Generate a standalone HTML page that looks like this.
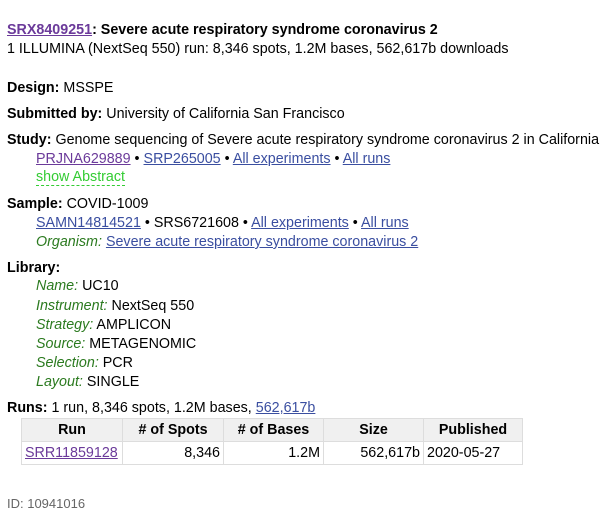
<!DOCTYPE html>
<html><head><meta charset="utf-8"><style>
body{margin:0;width:615px;height:519px;background:#fff;font-family:"Liberation Sans",sans-serif;font-size:14.3px;color:#000;position:relative;overflow:hidden}
.l{position:absolute;left:7px;line-height:16px;white-space:nowrap}
.i{left:36px}
a{color:#3a4ea0;text-decoration:underline}
a.v{color:#6b3a9a}
.g{color:#2b7a1f;font-style:italic}
b{font-weight:bold}
table{position:absolute;left:21px;top:418px;border-collapse:collapse;font-size:14.3px}
td,th{border:1px solid #ddd;padding:0 3px;height:23px;box-sizing:border-box}
th{background:#f0f0f0;text-align:center}
td{text-align:right}
</style></head><body>
<div class="l" style="top:22px"><b><a class="v" href="#">SRX8409251</a>: Severe acute respiratory syndrome coronavirus 2</b></div>
<div class="l" style="top:41px">1 ILLUMINA (NextSeq 550) run: 8,346 spots, 1.2M bases, 562,617b downloads</div>
<div class="l" style="top:80px"><b>Design:</b> MSSPE</div>
<div class="l" style="top:106px"><b>Submitted by:</b> University of California San Francisco</div>
<div class="l" style="top:132px"><b>Study:</b> Genome sequencing of Severe acute respiratory syndrome coronavirus 2 in California</div>
<div class="l i" style="top:151px"><a class="v" href="#">PRJNA629889</a> • <a href="#">SRP265005</a> • <a href="#">All experiments</a> • <a href="#">All runs</a></div>
<div class="l i" style="top:170px;color:#33cc33;border-bottom:1px dashed #33cc33;line-height:15px">show Abstract</div>
<div class="l" style="top:196px"><b>Sample:</b> COVID-1009</div>
<div class="l i" style="top:215px"><a href="#">SAMN14814521</a> • SRS6721608 • <a href="#">All experiments</a> • <a href="#">All runs</a></div>
<div class="l i" style="top:234px"><span class="g">Organism:</span> <a href="#">Severe acute respiratory syndrome coronavirus 2</a></div>
<div class="l" style="top:260px"><b>Library:</b></div>
<div class="l i" style="top:278px"><span class="g">Name:</span> UC10</div>
<div class="l i" style="top:298px"><span class="g">Instrument:</span> NextSeq 550</div>
<div class="l i" style="top:317px"><span class="g">Strategy:</span> AMPLICON</div>
<div class="l i" style="top:336px"><span class="g">Source:</span> METAGENOMIC</div>
<div class="l i" style="top:355px"><span class="g">Selection:</span> PCR</div>
<div class="l i" style="top:374px"><span class="g">Layout:</span> SINGLE</div>
<div class="l" style="top:400px"><b>Runs:</b> 1 run, 8,346 spots, 1.2M bases, <a href="#">562,617b</a></div>
<table>
<tr><th style="width:101px">Run</th><th style="width:101px"># of Spots</th><th style="width:100px"># of Bases</th><th style="width:100px">Size</th><th style="width:99px">Published</th></tr>
<tr><td style="text-align:left"><a class="v" href="#">SRR11859128</a></td><td>8,346</td><td>1.2M</td><td>562,617b</td><td style="text-align:left">2020-05-27</td></tr>
</table>
<div class="l" style="top:496px;font-size:13px;color:#666">ID: 10941016</div>
</body></html>
